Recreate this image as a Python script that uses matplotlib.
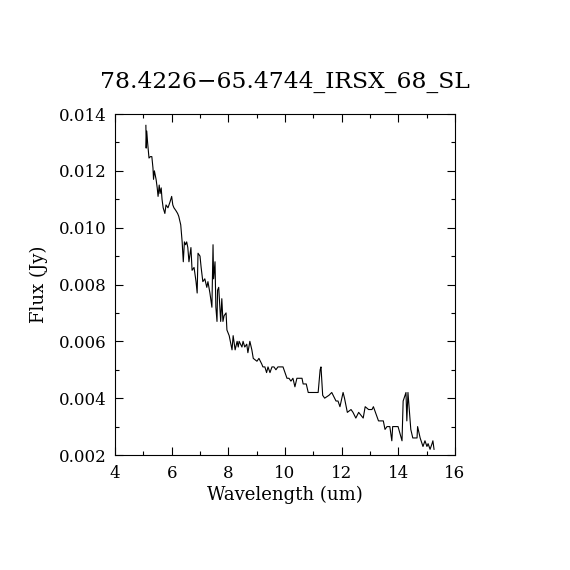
import numpy as np
import matplotlib
matplotlib.use("Agg")
import matplotlib.pyplot as plt
from matplotlib.ticker import MultipleLocator

# ── Données ───────────────────────────────────────────────────────────────────
wave = [5.09, 5.10, 5.12, 5.15, 5.20, 5.25, 5.30, 5.34, 5.36, 5.39, 5.45, 5.49,
        5.52, 5.56, 5.59, 5.63, 5.66, 5.70, 5.76, 5.80, 5.87, 5.94, 6.00, 6.04,
        6.08, 6.15, 6.21, 6.25, 6.32, 6.37, 6.41, 6.45, 6.49, 6.53, 6.57, 6.61,
        6.68, 6.72, 6.79, 6.86, 6.90, 6.93, 7.00, 7.04, 7.10, 7.17, 7.24, 7.28,
        7.35, 7.42, 7.46, 7.48, 7.53, 7.56, 7.60, 7.62, 7.66, 7.73, 7.77, 7.81,
        7.85, 7.92, 7.95, 8.03, 8.13, 8.17, 8.24, 8.31, 8.35, 8.38, 8.48, 8.52,
        8.58, 8.65, 8.69, 8.76, 8.83, 8.88, 9.01, 9.08, 9.18, 9.22, 9.29, 9.35,
        9.40, 9.47, 9.54, 9.61, 9.68, 9.75, 9.93, 10.00, 10.07, 10.14, 10.21,
        10.28, 10.35, 10.42, 10.53, 10.60, 10.64, 10.75, 10.82, 10.89, 11.06,
        11.17, 11.24, 11.27, 11.33, 11.40, 11.55, 11.65, 11.70, 11.80, 11.87,
        11.94, 12.05, 12.10, 12.20, 12.33, 12.40, 12.50, 12.60, 12.76, 12.83,
        12.95, 13.07, 13.12, 13.30, 13.47, 13.53, 13.60, 13.70, 13.77, 13.80,
        13.99, 14.13, 14.17, 14.27, 14.30, 14.34, 14.44, 14.51, 14.66, 14.68,
        14.77, 14.87, 14.94, 15.01, 15.05, 15.12, 15.19, 15.22, 15.26]
flux = [0.0136, 0.0128, 0.0134, 0.0130, 0.01245, 0.0125, 0.0125, 0.0121, 0.0117,
        0.0120, 0.0117, 0.0114, 0.0111, 0.0115, 0.0112, 0.0114, 0.0110, 0.0107,
        0.0105, 0.0108, 0.0107, 0.0109, 0.0111, 0.0108, 0.0107, 0.0106, 0.0105,
        0.0104, 0.0101, 0.0095, 0.0088, 0.0095, 0.0094, 0.0095, 0.0093, 0.0088,
        0.0093, 0.0085, 0.0086, 0.0081, 0.0077, 0.0091, 0.0090, 0.0086, 0.0081,
        0.0082, 0.0079, 0.0081, 0.0077, 0.0072, 0.0094, 0.0082, 0.0088, 0.0072,
        0.0067, 0.0078, 0.0079, 0.0067, 0.0075, 0.0067, 0.0069, 0.0070, 0.0064,
        0.0062, 0.0057, 0.0062, 0.0057, 0.0060, 0.0058, 0.0060, 0.0058, 0.0060,
        0.0058, 0.0059, 0.0056, 0.0060, 0.0057, 0.0054, 0.0053, 0.0054, 0.0052,
        0.0051, 0.0051, 0.0049, 0.0051, 0.0049, 0.0051, 0.0051, 0.0050, 0.0051,
        0.0051, 0.0049, 0.0047, 0.0047, 0.0046, 0.0047, 0.0044, 0.0047, 0.0047,
        0.0047, 0.0045, 0.0045, 0.0042, 0.0042, 0.0042, 0.0042, 0.0050, 0.0051,
        0.0041, 0.0040, 0.0041, 0.0042, 0.0041, 0.0039, 0.0039, 0.0037, 0.0042,
        0.0040, 0.0035, 0.0036, 0.0035, 0.0033, 0.0035, 0.0033, 0.0037, 0.0036,
        0.0036, 0.0037, 0.0032, 0.0032, 0.0029, 0.0030, 0.0030, 0.0025, 0.0030,
        0.0030, 0.0025, 0.0039, 0.0042, 0.0032, 0.0042, 0.0029, 0.0026, 0.0026,
        0.0030, 0.0026, 0.0023, 0.0025, 0.0023, 0.0024, 0.0022, 0.0024, 0.0025,
        0.0022]

TITLE = "78.4226\u221265.4744_IRSX_68_SL"

plt.rcParams["font.family"] = ["DejaVu Serif"]

fig = plt.figure(figsize=(5.7, 5.7), dpi=100)
ax = fig.add_axes([115/570, 1 - 455/570, 340/570, 341/570])
ax.plot(wave, flux, color="black", lw=0.8)

ax.set_xlim(4, 16)
ax.set_ylim(0.002, 0.014)
ax.xaxis.set_major_locator(MultipleLocator(2))
ax.xaxis.set_minor_locator(MultipleLocator(1))
ax.yaxis.set_major_locator(MultipleLocator(0.002))
ax.yaxis.set_minor_locator(MultipleLocator(0.001))
ax.yaxis.set_major_formatter(plt.FuncFormatter(lambda v, p: f"{v:.3f}"))
ax.tick_params(which="both", direction="in", top=True, right=True,
               width=0.8, labelsize=12)
ax.tick_params(axis="x", pad=7)
ax.tick_params(axis="y", pad=6)
ax.tick_params(which="major", length=6)
ax.tick_params(which="minor", length=3)
for s in ax.spines.values():
    s.set_linewidth(0.8)

ax.set_xlabel("Wavelength (um)", fontsize=13, labelpad=3)
ax.set_ylabel("Flux (Jy)", fontsize=13, labelpad=8)
ax.set_title(TITLE, fontsize=16.8, pad=19)

fig.savefig("out.png", dpi=100)
